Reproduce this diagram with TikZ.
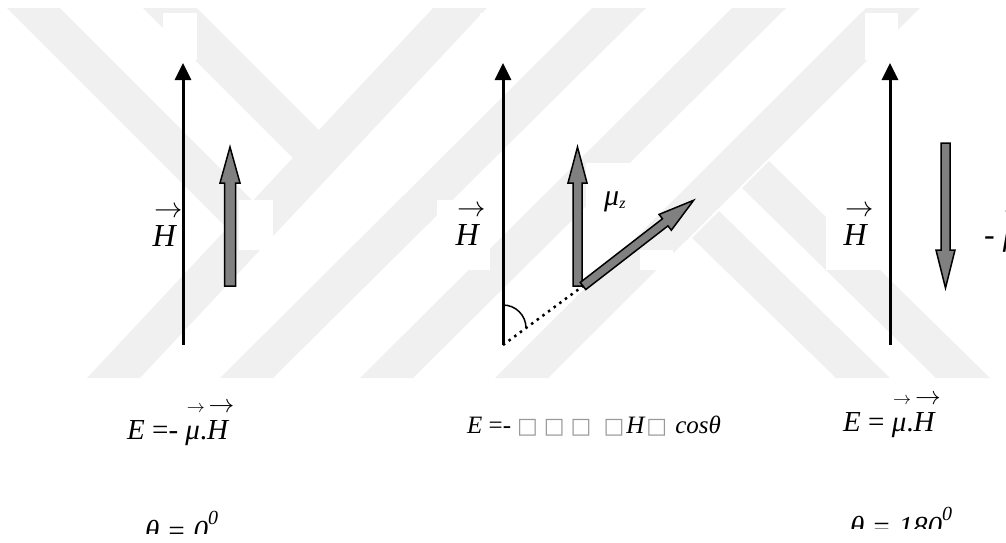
\documentclass[tikz,border=0pt]{standalone}
\usepackage{fontspec}
\usepackage{graphicx}
\setmainfont{Liberation Serif}
\newfontfamily\boxfont{DejaVu Sans}
\usetikzlibrary{arrows.meta}

\newlength\arrw
\newcommand{\overarr}[1]{\settowidth{\arrw}{#1}\addtolength{\arrw}{0.12em}\leavevmode\rlap{\hspace{0.05em}\raisebox{0.9em}{\resizebox{\arrw}{!}{$\rightarrow$}}}#1}
\newcommand{\vecH}{\overarr{\textit{H}}}
\newcommand{\vecmu}{\overarr{\textit{μ}}}
\newcommand{\nobox}{{\boxfont\fontsize{22}{24}\selectfont\color{black!40}□}}

\begin{document}
\begin{tikzpicture}[x=1pt,y=-1pt,
  wmark/.style={fill=black!6},
  blank/.style={fill=white},
  field/.style={line width=3pt,-{Triangle[length=17pt,width=16pt]}},
  moment/.style={fill=black!50,draw=black,line width=1.5pt},
  dotline/.style={line width=2.5pt,dash pattern=on 2.5pt off 4.5pt},
  lbl/.style={inner sep=0pt,anchor=base,font=\fontsize{32}{36}\selectfont},
  eq/.style={inner sep=0pt,anchor=base west,font=\fontsize{29}{34}\selectfont}]
\useasboundingbox (0,0) rectangle (1006,542);
\fill[wmark] (7,8) -- (60,8) -- (253,201) -- (227,228) -- cycle;
\fill[wmark] (143,8) -- (197,8) -- (319,130) -- (293,158) -- cycle;
\fill[wmark] (87,378) -- (140,378) -- (487,8) -- (433,8) -- cycle;
\fill[wmark] (220,378) -- (273,378) -- (646,8) -- (592,8) -- cycle;
\fill[wmark] (360,378) -- (413,378) -- (786,8) -- (732,8) -- cycle;
\fill[wmark] (495,378) -- (548,378) -- (920,8) -- (866,8) -- cycle;
\fill[wmark] (692,238) -- (719,211) -- (890,378) -- (836,378) -- cycle;
\fill[wmark] (742,188) -- (769,161) -- (990,378) -- (936,378) -- cycle;
\fill[blank] (163,13) rectangle (197,60);
\fill[blank] (239,200) rectangle (273,250);
\fill[blank] (437,200) rectangle (490,270);
\fill[blank] (480,13) rectangle (516,60);
\fill[blank] (586,163) rectangle (630,250);
\fill[blank] (640,250) rectangle (673,270);
\fill[blank] (826,200) rectangle (880,270);
\fill[blank] (865,13) rectangle (898,60);

\coordinate (fL0) at (183,345); \coordinate (fL1) at (183,63);
\coordinate (fM0) at (503,345); \coordinate (fM1) at (503,63);
\coordinate (fR0) at (890,345); \coordinate (fR1) at (890,63);
\draw[field] (fL0) -- (fL1);
\draw[field] (fM0) -- (fM1);
\draw[field] (fR0) -- (fR1);

\draw[moment] (224.5,286) -- (235.5,286) -- (235.5,183) -- (240,183) -- (230,147) -- (220,183) -- (224.5,183) -- cycle;
\draw[moment] (573,286) -- (582,286) -- (582,183) -- (587,183) -- (577.5,147) -- (568,183) -- (573,183) -- cycle;
\draw[moment] (941,143) -- (950,143) -- (950,250) -- (955,250) -- (945.5,288) -- (936,250) -- (941,250) -- cycle;
\begin{scope}[shift={(583,286)},rotate=37.77]
\draw[moment] (0,-4.5) -- (104,-4.5) -- (104,-10) -- (140,0) -- (104,10) -- (104,4.5) -- (0,4.5) -- cycle;
\end{scope}

\coordinate (tail) at (583,286);
\draw[dotline] (fM0) -- (tail);
\draw[line width=1.5pt] (503,305) arc (-90:0:23);

\node[lbl] (HL) at (165,246) {\vecH};
\node[lbl] (HM) at (468,245) {\vecH};
\node[lbl] (HR) at (856,245) {\vecH};
\node[lbl,anchor=base west] (muR) at (984,245) {- \vecmu};
\node[inner sep=0pt,anchor=base west,font=\fontsize{30}{34}\selectfont] (muz) at (604,205) {\textit{μ}\raisebox{-0.12em}{\fontsize{16}{16}\selectfont\textit{z}}};

\node[eq] (EL) at (127,439) {\textit{E} =- \vecmu.\vecH};
\node[eq,font=\fontsize{25}{30}\selectfont] (EM) at (467,433) {\textit{E} =-\hspace{6pt}\nobox\hspace{6pt}\nobox\hspace{6pt}\nobox\hspace{12pt}\nobox\hspace{2pt}\textit{H}\hspace{1pt}\nobox\hspace{8pt}\textit{cosθ}};
\node[eq] (ER) at (843,431) {\textit{E} = \vecmu.\vecH};

\begin{scope}
\clip (100,480) rectangle (260,533);
\node[eq] (thL) at (145,540) {\textit{θ = 0}\raisebox{0.55em}{\fontsize{20}{20}\selectfont\textit{0}}};
\end{scope}
\begin{scope}
\clip (820,480) rectangle (980,528);
\node[eq] (thR) at (850,536) {\textit{θ = 180}\raisebox{0.55em}{\fontsize{20}{20}\selectfont\textit{0}}};
\end{scope}
\end{tikzpicture}
\end{document}
